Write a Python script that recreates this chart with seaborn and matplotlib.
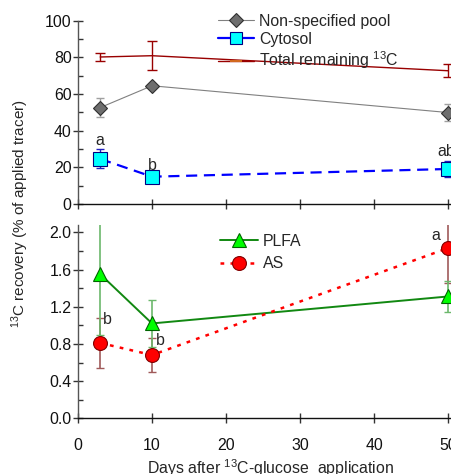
import numpy as np
import seaborn as sns
import matplotlib.pyplot as plt
from matplotlib.lines import Line2D
from matplotlib.ticker import MultipleLocator, FormatStrFormatter

days = [3, 10, 50]

# upper panel, % of applied tracer
total = [80.2, 80.9, 72.7]
total_err = [2.4, 7.8, 3.6]
nonspec = [52.6, 64.5, 49.9]
nonspec_err = [5.0, 1.0, 4.8]
cytosol = [24.6, 14.9, 19.1]
cytosol_err = [5.2, 1.0, 4.4]
cytosol_letters = ["a", "b", "ab"]

# lower panel
plfa = [1.55, 1.02, 1.31]
plfa_err = [0.65, 0.25, 0.17]
as_vals = [0.81, 0.68, 1.83]
as_err = [0.27, 0.18, 0.37]
as_letters = ["b", "b", "a"]

sns.set_theme(style="ticks")
plt.rcParams["font.family"] = ["Liberation Sans", "DejaVu Sans"]
plt.rcParams["mathtext.fontset"] = "custom"
plt.rcParams["mathtext.rm"] = "Liberation Sans"
plt.rcParams["mathtext.it"] = "Liberation Sans:italic"

dpi = 100
W, H = 452, 474
fig = plt.figure(figsize=(W / dpi, H / dpi), dpi=dpi)

x0 = 78
px_per_day = 7.4
xmax = 52
left = x0 / W
width = xmax * px_per_day / W
ax1 = fig.add_axes([left, 1 - 204 / H, width, 183.3 / H])
ax2 = fig.add_axes([left, 1 - 418.3 / H, width, 2.08 * 93 / H])

fs = 11.4

# ---- upper panel
ax1.errorbar(days, total, yerr=total_err, fmt="none", ecolor="#990000", elinewidth=1, capsize=3.5, zorder=1)
ax1.errorbar(days, nonspec, yerr=nonspec_err, fmt="none", ecolor="#a0a0a0", elinewidth=1, capsize=3, zorder=1)
ax1.errorbar(days, cytosol, yerr=cytosol_err, fmt="none", ecolor="#2020c0", elinewidth=1, capsize=3, zorder=1)

sns.lineplot(x=days, y=total, ax=ax1, color="#990000", lw=1, zorder=2)
sns.lineplot(x=days, y=nonspec, ax=ax1, color="#808080", lw=0.8, marker="D", markersize=7.2,
             markerfacecolor="#6e6e6e", markeredgecolor="#303030", markeredgewidth=0.8, zorder=3)
sns.lineplot(x=days, y=cytosol, ax=ax1, color="#0000ff", lw=1.6, linestyle=(0, (5, 3)), marker="s",
             markersize=9.5, markerfacecolor="#00ffff", markeredgecolor="#000080", markeredgewidth=0.8, zorder=3)

handles = [
    Line2D([], [], color="#808080", lw=0.8, marker="D", markersize=7, markerfacecolor="#6e6e6e",
           markeredgecolor="#303030", markeredgewidth=0.8),
    Line2D([], [], color="#0000ff", lw=1.6, marker="s", markersize=8, markerfacecolor="#00ffff",
           markeredgecolor="#000080", markeredgewidth=0.8),
    Line2D([], [], color="#990000", lw=1, marker="_", markersize=8, markeredgecolor="#d2691e",
           markeredgewidth=1.5),
]
labels = ["Non-specified pool", "Cytosol", "Total remaining $^{13}$C"]
ax1.legend(handles, labels, loc="upper left", bbox_to_anchor=(218 / W, 1 - 14 / H),
           bbox_transform=fig.transFigure, frameon=False, fontsize=fs, handlelength=2.3,
           handletextpad=0.3, labelspacing=0.18, borderpad=0, borderaxespad=0)

for d, v, e, t in zip(days, cytosol, cytosol_err, cytosol_letters):
    ha = "left" if t == "ab" else "center"
    xx = d - 1.4 if t == "ab" else d
    ax1.text(xx, v + e + 5 if t != "b" else v + 6, t, ha=ha, va="center", fontsize=fs)

ax1.set_ylim(0, 100)
ax1.set_yticks(np.arange(0, 101, 20))
ax1.yaxis.set_minor_locator(MultipleLocator(10))
ax1.tick_params(axis="x", labelbottom=False)

# ---- lower panel
ax2.errorbar(days, as_vals, yerr=as_err, fmt="none", ecolor="#a05a5a", elinewidth=1.2, capsize=3, zorder=1)
ax2.errorbar(days, plfa, yerr=plfa_err, fmt="none", ecolor="#6cb86c", elinewidth=1.2, capsize=3, zorder=1)

sns.lineplot(x=days, y=plfa, ax=ax2, color="#118811", lw=1.4, marker="^", markersize=10.5,
             markerfacecolor="#00ff00", markeredgecolor="#006400", markeredgewidth=0.8,
             label="PLFA", zorder=3)
sns.lineplot(x=days, y=as_vals, ax=ax2, color="#ff0000", lw=1.8, linestyle=(0, (1.5, 2.5)), marker="o",
             markersize=10, markerfacecolor="#ff0000", markeredgecolor="#800000", markeredgewidth=0.8,
             label="AS", zorder=3)
ax2.legend(loc="upper left", bbox_to_anchor=(220 / W, 1 - 233.5 / H), bbox_transform=fig.transFigure,
           frameon=False, fontsize=fs, handlelength=2.4, handletextpad=0.3, labelspacing=0.5,
           borderpad=0, borderaxespad=0)

ax2.text(3.4, 1.06, as_letters[0], ha="left", va="center", fontsize=fs)
ax2.text(10.5, 0.84, as_letters[1], ha="left", va="center", fontsize=fs)
ax2.text(47.8, 1.97, as_letters[2], ha="left", va="center", fontsize=fs)

ax2.set_ylim(0, 2.08)
ax2.set_yticks(np.arange(0, 2.01, 0.4))
ax2.yaxis.set_major_formatter(FormatStrFormatter("%.1f"))
ax2.yaxis.set_minor_locator(MultipleLocator(0.2))
ax2.set_xlabel("Days after $^{13}$C-glucose  application", fontsize=fs, labelpad=3)

for ax in (ax1, ax2):
    ax.set_xlim(0, xmax)
    ax.set_xticks([0, 10, 20, 30, 40, 50])
    for s in ("top", "right"):
        ax.spines[s].set_visible(False)
    ax.spines["left"].set_color("#555555")
    ax.spines["bottom"].set_color("#111111")
    ax.spines["left"].set_linewidth(1)
    ax.spines["bottom"].set_linewidth(1)
    ax.tick_params(axis="both", which="major", direction="inout", length=7, width=1,
                   color="#333333", labelsize=fs, labelcolor="#111111")
    ax.tick_params(axis="x", which="major", pad=10.5)
    ax.tick_params(axis="y", which="major", pad=1)
    ax.tick_params(axis="y", which="minor", direction="in", length=3.5, width=1, color="#333333")
    ax.set_ylabel("")
    ax.set_facecolor("none")

fig.text(20 / W, 1 - 214 / H, "$^{13}$C recovery (% of applied tracer)", rotation=90,
         ha="center", va="center", fontsize=11)

fig.savefig("out.png", dpi=dpi)
